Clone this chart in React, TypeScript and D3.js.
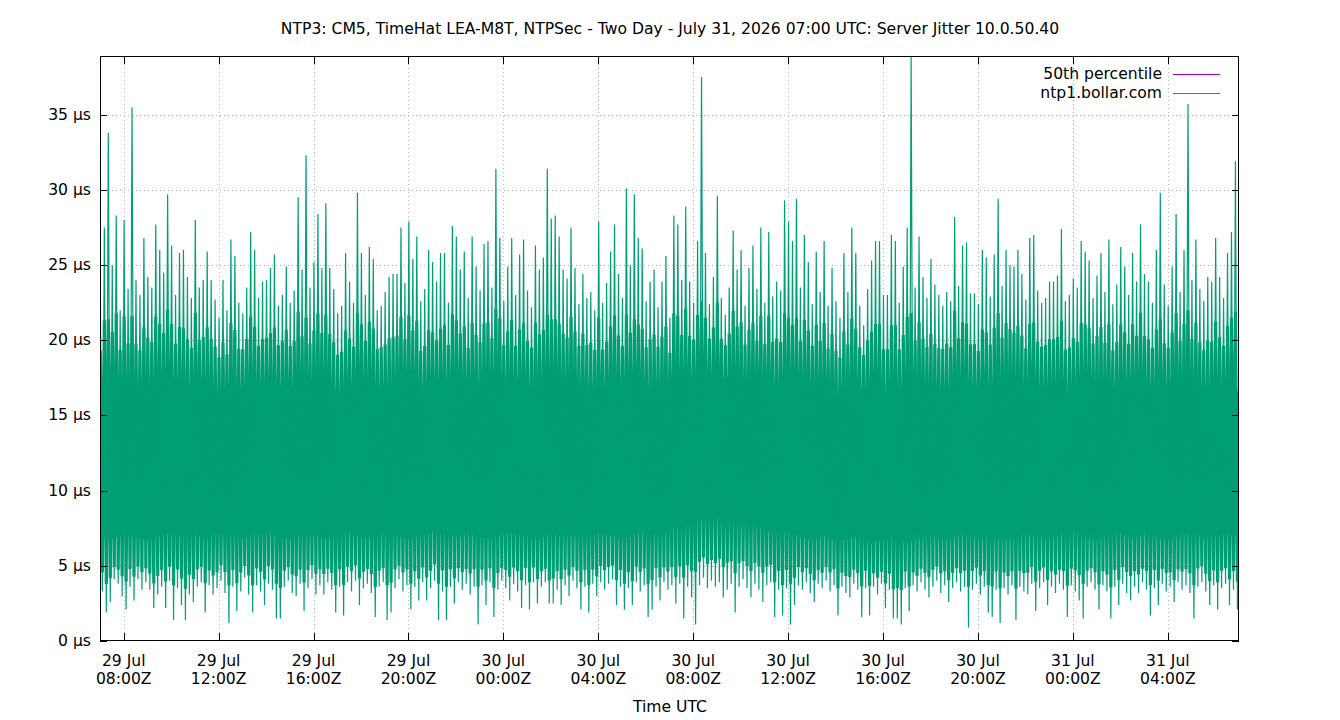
import React, { useEffect, useRef } from "react";
import * as d3 from "d3";

// chart window: Jul 29 07:00 UTC .. Jul 31 07:00 UTC, one bin per 10 minutes
const START = Date.UTC(2026, 6, 29, 7, 0);
const END = Date.UTC(2026, 6, 31, 7, 0);
const BIN_MIN = 10;

// highest jitter in each 10-minute bin (µs)
const peaks = [
  22.5, 27.5, 33.8, 25, 28.3, 22, 28, 23.4, 35.5, 24, 23, 26.8, 24.2, 23.5, 27.7, 26, 24.5, 29.7, 26.3, 23, 25.8, 26, 24.2, 22.8, 28, 23.5, 24, 25.9, 24,
  22.7, 21.5, 24, 22, 26.7, 25.6, 22.5, 21.8, 23.5, 27.2, 26, 22.8, 23.9, 24, 24.8, 25.7, 22.3, 23, 24.9, 22.5, 23.3, 29.5, 24.7, 32.3, 23.5, 25.2, 28.4, 24.8, 29.1,
  24.8, 23.4, 21.8, 22.3, 25.8, 23.9, 22.5, 29.8, 25.8, 23, 26.2, 25.4, 22, 22.3, 23.2, 24.2, 24.4, 24.4, 27.5, 23.8, 27.9, 25.4, 26.9, 22.6, 23.4, 26, 25.2, 23.9, 25.8,
  25.8, 22.5, 27.6, 26.9, 24.7, 25.9, 22.8, 26.9, 24.9, 23.3, 26.4, 26.6, 23.5, 31.4, 26.8, 22.6, 24.9, 26.8, 23, 25.7, 26.7, 23.3, 22.2, 26.3, 24.7, 25.5, 31.4, 28.1, 28.3,
  26.9, 24.7, 24.1, 27.5, 24.8, 22.4, 24.4, 22.8, 23.2, 22, 27.9, 22.5, 23.8, 25.9, 27.7, 24.4, 22.8, 30.1, 25, 29.7, 26.8, 26.1, 22.6, 23.9, 24.7, 22.2, 23.9, 25.6, 21.5,
  28.3, 27.7, 24, 28.9, 23.9, 22.5, 26.6, 37.5, 25.8, 22.4, 24.2, 29.6, 22.8, 21.7, 23.5, 27.3, 24.7, 26, 22.3, 24.8, 26.3, 23.4, 27.5, 22.5, 27.2, 22.9, 23.9, 23.3, 29.3,
  27.9, 26.6, 29.4, 23.5, 27, 25.2, 22.4, 25.9, 23.2, 26.6, 22.3, 24.8, 22.6, 21.5, 25.8, 23.2, 27.5, 25.8, 22.3, 21, 23.4, 25.3, 26.6, 26.6, 23, 23, 27, 26.6,
  22.5, 24.9, 27.5, 38.9, 23.5, 26.9, 24.2, 22.8, 25.4, 23.7, 23, 22.3, 23.2, 22.6, 28.2, 23.6, 26.3, 26.5, 23.1, 23.1, 22.4, 26, 25.5, 22.9, 25.7, 29.4, 23.6, 26, 25,
  24.9, 26, 24.4, 22.7, 26.8, 27, 23.3, 22.5, 22.8, 23.9, 23.9, 24.3, 27.4, 22.6, 23, 24.1, 23.5, 26.6, 25.9, 25.3, 22.8, 24.3, 25.8, 23.2, 26.7, 22.4, 23.7, 26.2, 24.9,
  23, 25.8, 23.9, 27.7, 24.4, 23.9, 22.5, 26, 29.8, 23.7, 22.3, 24.9, 28.4, 23.2, 26, 35.7, 24, 26.7, 23.4, 22.6, 24.2, 23.9, 26.8, 24.2, 22.8, 25.8, 27.2, 31.9,
];

// lowest jitter in each 10-minute bin (µs)
const troughs = [
  3.3, 1.9, 2.6, 4.1, 3.8, 3.0, 2.1, 3.6, 2.7, 4.1, 3.4, 3.9, 3.4, 2.2, 3.1, 3.6, 2.2, 4.0, 1.4, 3.5, 2.4, 1.4, 3.1, 2.6, 3.6, 3.9, 1.9, 3.7, 3.1,
  3.5, 4.0, 3.2, 1.2, 3.6, 2.0, 3.3, 4.2, 3.1, 1.9, 3.7, 3.3, 2.4, 3.8, 3.4, 1.5, 1.5, 3.6, 4.0, 3.2, 3.0, 3.8, 2.0, 3.5, 4.1, 3.1, 3.7, 3.1, 3.9,
  3.4, 1.9, 3.6, 1.7, 3.9, 3.3, 4.0, 2.4, 3.5, 3.8, 3.2, 1.6, 3.6, 3.9, 1.4, 1.9, 3.5, 4.1, 3.3, 3.7, 2.1, 3.6, 2.7, 3.9, 2.7, 3.5, 4.0, 1.4, 3.3,
  1.4, 3.6, 2.5, 3.9, 3.4, 3.8, 3.1, 3.6, 1.1, 3.7, 2.4, 3.9, 1.6, 3.4, 4.0, 3.5, 2.7, 3.8, 3.3, 2.2, 3.7, 2.1, 3.9, 2.5, 3.6, 3.9, 2.5, 2.5, 3.4,
  2.4, 3.7, 3.0, 4.0, 3.5, 2.1, 3.6, 1.9, 3.8, 3.0, 3.9, 3.4, 3.8, 4.1, 2.4, 3.6, 2.1, 3.5, 2.4, 3.9, 3.3, 3.7, 1.6, 2.1, 3.6, 2.7, 3.9, 3.4, 3.7,
  2.5, 3.8, 1.5, 3.6, 2.9, 1.1, 3.7, 4.2, 3.5, 4.0, 3.6, 3.9, 2.9, 3.4, 3.8, 1.9, 3.6, 4.1, 3.5, 2.9, 3.8, 3.4, 2.6, 3.7, 3.9, 1.6, 3.4, 1.7, 3.5,
  1.1, 2.4, 3.7, 3.4, 3.9, 3.2, 2.6, 3.8, 3.5, 4.0, 3.3, 3.7, 1.7, 3.6, 3.2, 2.9, 3.8, 3.4, 1.6, 3.5, 1.7, 3.6, 3.1, 3.8, 2.2, 3.4, 1.5, 1.5,
  1.1, 3.5, 2.0, 3.7, 3.3, 3.9, 3.4, 2.9, 3.6, 4.0, 3.2, 3.7, 2.6, 3.5, 3.9, 3.3, 3.6, 0.9, 3.4, 3.8, 3.1, 3.6, 1.9, 1.6, 3.4, 1.2, 3.5, 3.1, 3.7,
  1.4, 3.6, 3.3, 3.1, 3.8, 2.0, 3.5, 3.9, 2.4, 3.6, 3.2, 3.8, 3.4, 1.6, 3.7, 3.3, 2.7, 1.5, 3.6, 3.9, 3.4, 2.1, 3.7, 3.3, 1.5, 3.6, 2.4, 3.8, 3.2,
  2.7, 3.6, 3.2, 3.9, 3.4, 1.7, 3.5, 2.4, 3.8, 3.3, 3.6, 2.6, 3.9, 3.4, 3.7, 3.2, 1.5, 3.6, 3.9, 3.3, 2.4, 3.7, 2.1, 3.5, 3.8, 2.4, 3.4, 2.1,
];

// half-hourly edges of the range the samples fill solidly (µs)
const denseHi = [
  17.2, 17.6, 17.4, 16.9, 17.5, 17.8, 17.6, 17.3, 17.7, 17.5, 17.1, 17.4, 17.8, 17.5, 17.6, 17.9, 17.7, 17.3, 17.6, 17.5,
  17.2, 17.6, 17.9, 17.7, 17.4, 17.6, 17.5, 17.1, 17.4, 17.8, 17.6, 17.3, 17.6, 17.9, 17.7, 17.4, 17.7, 17.5, 17.2, 17.6,
  17.8, 17.6, 17.3, 17.6, 17.5, 17.2, 17.5, 17.8, 17.6, 17.9, 18.4, 18.6, 18.3, 18.4, 18.0, 17.7, 17.9, 17.6, 17.3, 17.6,
  17.8, 17.5, 17.1, 17.4, 17.7, 17.4, 17.0, 17.3, 17.6, 17.4, 17.1, 17.5, 17.8, 17.5, 17.2, 17.6, 17.9, 17.6, 17.3, 17.6,
  17.5, 17.2, 17.5, 17.8, 17.6, 17.3, 17.6, 17.9, 17.5, 17.2, 17.6, 17.8, 17.5, 17.2, 17.5, 17.7, 17.5,
];
const denseLo = [
  6.1, 5.9, 6.2, 6.0, 5.8, 6.1, 6.3, 6.0, 6.2, 5.9, 6.3, 6.1, 5.9, 6.2, 6.4, 6.0, 5.9, 6.2, 6.1, 5.9,
  6.2, 6.3, 6.0, 6.0, 6.3, 6.1, 5.9, 6.1, 6.4, 6.2, 6.0, 6.2, 6.0, 5.9, 6.2, 6.3, 6.1, 5.9, 6.2, 6.0,
  6.1, 5.9, 6.3, 6.1, 5.9, 6.2, 6.4, 6.1, 6.4, 6.8, 7.2, 7.1, 7.4, 7.1, 6.8, 6.9, 6.5, 6.2, 6.4, 6.0,
  5.8, 6.1, 5.7, 5.9, 6.1, 5.6, 5.8, 6.0, 5.6, 5.9, 6.1, 5.8, 6.0, 6.2, 5.9, 6.1, 5.8, 6.0, 6.3, 6.1,
  5.9, 6.2, 6.4, 6.0, 5.8, 6.1, 6.3, 5.9, 6.2, 6.0, 5.8, 6.1, 6.3, 5.9, 6.1, 6.2, 6.0,
];

const median = 11.6;

const TITLE =
  "NTP3: CM5, TimeHat LEA-M8T, NTPSec - Two Day - July 31, 2026 07:00 UTC: Server Jitter 10.0.50.40";
const seriesNames = ["50th percentile", "ntp1.bollar.com"];
const colors = ["#9400d3", "#009e73"];

type Band = { t: number; hi: number; lo: number };
type Pt = { t: number; v: number };

const App = () => {
  const svgRef = useRef<SVGSVGElement | null>(null);

  useEffect(() => {
    document.body.style.margin = "0";
    const width = 1340;
    const height = 720;
    const m = { left: 100, right: 1239, top: 56, bottom: 641 };
    const font = "'DejaVu Sans', sans-serif";

    const svg = d3.select(svgRef.current);
    svg.selectAll("*").remove();
    svg.attr("width", width).attr("height", height).style("font-family", font);

    const x = d3.scaleUtc().domain([new Date(START), new Date(END)]).range([m.left, m.right]);
    const y = d3
      .scaleLinear()
      .domain([0, d3.max(peaks) as number])
      .range([m.bottom, m.top]);

    svg.append("rect").attr("width", width).attr("height", height).attr("fill", "#fff");

    // grid
    const xTicks = x.ticks(d3.utcHour.every(4) as d3.TimeInterval);
    const yTicks = d3.range(0, 36, 5);
    const grid = svg.append("g").attr("stroke", "#b4b4b4").attr("stroke-width", 1).attr("stroke-dasharray", "1,3");
    yTicks.slice(1).forEach((v) => {
      grid.append("line").attr("x1", m.left).attr("x2", m.right).attr("y1", Math.round(y(v)) + 0.5).attr("y2", Math.round(y(v)) + 0.5);
    });
    xTicks.forEach((t) => {
      grid.append("line").attr("x1", Math.round(x(t)) + 0.5).attr("x2", Math.round(x(t)) + 0.5).attr("y1", m.top).attr("y2", m.bottom);
    });

    const plot = svg.append("g");
    plot
      .append("clipPath")
      .attr("id", "clip")
      .append("rect")
      .attr("x", m.left)
      .attr("y", m.top)
      .attr("width", m.right - m.left)
      .attr("height", m.bottom - m.top);
    const g = plot.append("g").attr("clip-path", "url(#clip)");

    // 50th percentile (drawn first, under the samples)
    g.append("line")
      .attr("x1", m.left)
      .attr("x2", m.right)
      .attr("y1", y(median))
      .attr("y2", y(median))
      .attr("stroke", colors[0])
      .attr("stroke-width", 1);

    // range the samples cover solidly (inset a little so its edge hides in the strokes)
    const halfHourly: Band[] = denseHi.map((h, i) => ({ t: START + i * 1800e3, hi: h, lo: denseLo[i] }));
    const area = d3
      .area<Band>()
      .x((d) => x(d.t))
      .y0((d) => y(d.lo + 0.9))
      .y1((d) => y(d.hi - 0.9));
    g.append("path").attr("d", area(halfHourly)).attr("fill", colors[1]);

    // sample series: per bin its peak then its trough
    const samples: Pt[] = [];
    peaks.forEach((p, i) => {
      const t0 = START + i * BIN_MIN * 60e3;
      samples.push({ t: t0 + 60e3, v: p });
      samples.push({ t: t0 + 6 * 60e3, v: troughs[i] });
    });
    const line = d3
      .line<Pt>()
      .x((d) => x(d.t))
      .y((d) => y(d.v));

    // heavier stroke for the lower part of each excursion, so the bulk fades into the spikes
    const bulk = samples.map((d) => {
      const k = Math.min(denseHi.length - 1, Math.floor((d.t - START) / 1800e3));
      const hi = denseHi[k];
      const lo = denseLo[k];
      let v = d.v;
      if (v > hi) v = hi + Math.min(4.2, (v - hi) * 0.4);
      if (v < lo) v = lo - Math.min(2.6, (lo - v) * 0.55);
      return { t: d.t, v };
    });
    g.append("path")
      .attr("d", line(bulk))
      .attr("fill", "none")
      .attr("stroke", colors[1])
      .attr("stroke-width", 3.2)
      .attr("stroke-linejoin", "bevel");

    g.append("path")
      .attr("d", line(samples))
      .attr("fill", "none")
      .attr("stroke", colors[1])
      .attr("stroke-width", 1.2)
      .attr("stroke-linejoin", "bevel");

    // border
    svg
      .append("rect")
      .attr("x", m.left + 0.5)
      .attr("y", m.top + 0.5)
      .attr("width", m.right - m.left - 1)
      .attr("height", m.bottom - m.top - 1)
      .attr("fill", "none")
      .attr("stroke", "#000")
      .attr("stroke-width", 1);

    // ticks, mirrored
    const ticks = svg.append("g").attr("stroke", "#000").attr("stroke-width", 1);
    yTicks.forEach((v) => {
      const yy = Math.round(y(v)) + 0.5;
      ticks.append("line").attr("x1", m.left).attr("x2", m.left + 7).attr("y1", yy).attr("y2", yy);
      ticks.append("line").attr("x1", m.right - 7).attr("x2", m.right).attr("y1", yy).attr("y2", yy);
    });
    xTicks.forEach((t) => {
      const xx = Math.round(x(t)) + 0.5;
      ticks.append("line").attr("x1", xx).attr("x2", xx).attr("y1", m.bottom).attr("y2", m.bottom - 8);
      ticks.append("line").attr("x1", xx).attr("x2", xx).attr("y1", m.top).attr("y2", m.top + 8);
    });

    const fs = "15.6px";
    // y labels
    svg
      .append("g")
      .selectAll("text")
      .data(yTicks)
      .enter()
      .append("text")
      .attr("x", 91)
      .attr("y", (v) => y(v) + 5)
      .attr("text-anchor", "end")
      .style("font-size", fs)
      .text((v) => `${v} µs`);

    // x labels
    const fmtDay = d3.utcFormat("%d %b");
    const fmtTime = d3.utcFormat("%H:%MZ");
    const xl = svg.append("g").selectAll("g").data(xTicks).enter().append("g");
    xl.append("text")
      .attr("x", (t) => x(t))
      .attr("y", 666)
      .attr("text-anchor", "middle")
      .style("font-size", fs)
      .text((t) => fmtDay(t));
    xl.append("text")
      .attr("x", (t) => x(t))
      .attr("y", 684)
      .attr("text-anchor", "middle")
      .style("font-size", fs)
      .text((t) => fmtTime(t));

    svg
      .append("text")
      .attr("x", 670)
      .attr("y", 712)
      .attr("text-anchor", "middle")
      .style("font-size", fs)
      .text("Time UTC");

    svg
      .append("text")
      .attr("x", 670)
      .attr("y", 34)
      .attr("text-anchor", "middle")
      .style("font-size", fs)
      .text(TITLE);

    // legend
    seriesNames.forEach((name, i) => {
      const yy = 74 + i * 18.5;
      svg
        .append("text")
        .attr("x", 1162)
        .attr("y", yy + 5)
        .attr("text-anchor", "end")
        .style("font-size", fs)
        .text(name);
      svg
        .append("line")
        .attr("x1", 1173)
        .attr("x2", 1220)
        .attr("y1", Math.round(yy) + 0.5)
        .attr("y2", Math.round(yy) + 0.5)
        .attr("stroke", colors[i])
        .attr("stroke-width", 1);
    });
  }, []);

  return <svg ref={svgRef}></svg>;
};

export default App;
